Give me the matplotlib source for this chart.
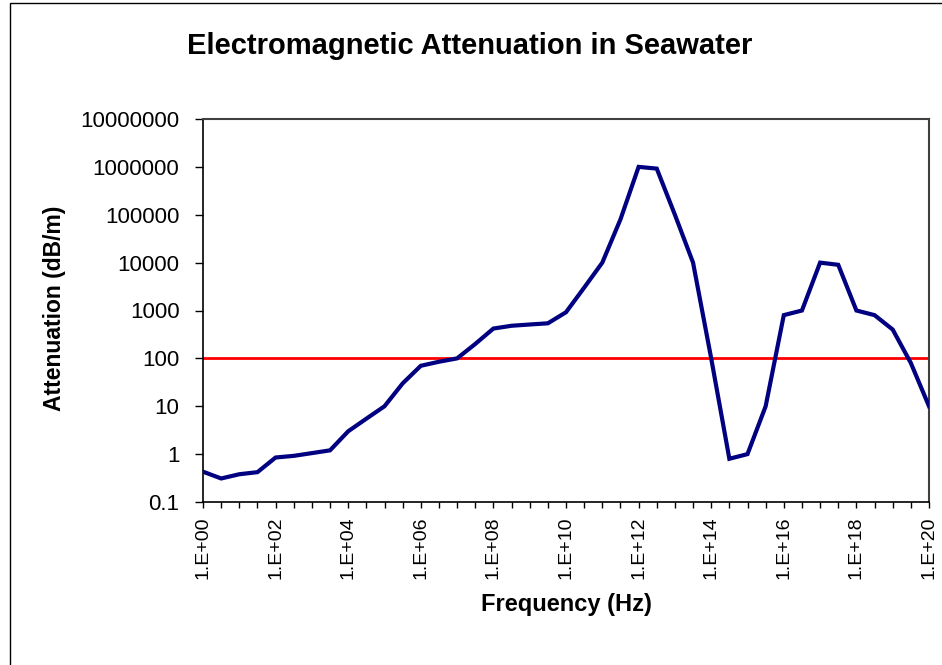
import matplotlib

matplotlib.use("Agg")
import matplotlib.pyplot as plt
import numpy as np
from matplotlib.patches import Rectangle
from matplotlib.ticker import FixedLocator, NullFormatter, NullLocator

# frequency in decades (half-decade steps), as plotted by the original sheet
log_freq = [
    0, 0.5, 1, 1.5, 2, 2.5, 3, 3.5, 4, 4.5, 5, 5.5, 6, 6.5, 7, 7.5, 8, 8.5, 9, 9.5,
    10, 10.5, 11, 11.5, 12, 12.5, 13, 13.5, 14, 14.5, 15, 15.5, 16, 16.5, 17, 17.5,
    18, 18.5, 19, 19.5, 20,
]
attenuation_db_m = [
    0.43, 0.31, 0.38, 0.42, 0.85, 0.92, 1.05, 1.2, 3.0, 5.5, 10, 30, 70, 85, 100,
    200, 420, 480, 510, 540, 920, 3000, 10000, 80000, 1000000, 920000, 100000,
    10000, 100, 0.8, 1.0, 10, 800, 1000, 10000, 9000, 1000, 800, 400, 80, 10,
]
threshold_db_m = 100
y_ticks = [0.1, 1, 10, 100, 1000, 10000, 100000, 1000000, 10000000]
y_tick_labels = ["0.1", "1", "10", "100", "1000", "10000", "100000", "1000000", "10000000"]
x_label_decades = [0, 2, 4, 6, 8, 10, 12, 14, 16, 18, 20]

plt.rcParams["font.family"] = ["Liberation Sans", "DejaVu Sans"]

freq = 10.0 ** np.array(log_freq)

fig = plt.figure(figsize=(9.42, 6.65), dpi=100)
ax = fig.add_axes([203 / 942, 1 - 502 / 665, (929 - 203) / 942, (502 - 119) / 665])

ax.plot(freq, attenuation_db_m, color="#000080", linewidth=3.0, solid_joinstyle="miter", zorder=3)
ax.plot([freq[0], freq[-1]], [threshold_db_m, threshold_db_m], color="#ff0000", linewidth=2.0, zorder=2)

ax.set_xscale("log")
ax.set_yscale("log")
ax.set_xlim(freq[0], freq[-1])
ax.set_ylim(y_ticks[0], y_ticks[-1])

ax.yaxis.set_major_locator(FixedLocator(y_ticks))
ax.yaxis.set_minor_locator(NullLocator())
ax.set_yticklabels(y_tick_labels)

ax.xaxis.set_major_locator(FixedLocator([10.0 ** d for d in x_label_decades]))
ax.set_xticklabels([f"1.E+{d:02d}" for d in x_label_decades], rotation=90)
ax.xaxis.set_minor_locator(FixedLocator(freq))
ax.xaxis.set_minor_formatter(NullFormatter())

ax.tick_params(axis="y", which="major", direction="out", length=6, width=1, labelsize=16, pad=11)
ax.tick_params(axis="x", which="both", direction="out", length=4.5, width=1, labelsize=14, pad=6)

for side in ["left", "bottom"]:
    ax.spines[side].set_color("black")
    ax.spines[side].set_linewidth(1.2)
for side in ["top", "right"]:
    ax.spines[side].set_color("#404040")
    ax.spines[side].set_linewidth(1.5)

fig.text(566 / 942, 1 - 604 / 665, "Frequency (Hz)", fontsize=17, fontweight="bold",
         ha="center", va="center")
fig.text(54 / 942, 1 - 308 / 665, "Attenuation (dB/m)", fontsize=16.5, fontweight="bold",
         ha="center", va="center", rotation=90)
fig.text(470 / 942, 1 - 46 / 665, "Electromagnetic Attenuation in Seawater",
         fontsize=21, fontweight="bold", ha="center", va="center")

fig.patches.append(Rectangle((10 / 942, -0.01), 1.0, 1 - 3 / 665 + 0.01,
                             transform=fig.transFigure, fill=False,
                             edgecolor="black", linewidth=1.0))

fig.savefig("out.png", dpi=100)
plt.close(fig)
